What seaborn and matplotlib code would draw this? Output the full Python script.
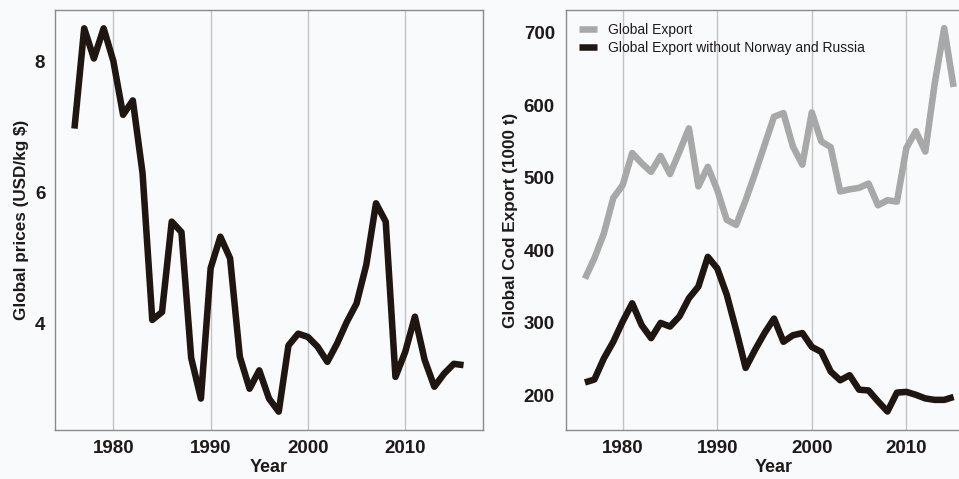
import matplotlib
matplotlib.use("Agg")
import matplotlib.pyplot as plt
import seaborn as sns
import pandas as pd

years_price = list(range(1976, 2017))
prices = [6.97, 8.50, 8.04, 8.50, 8.00, 7.18, 7.40, 6.29, 4.05, 4.17,
          5.55, 5.39, 3.47, 2.85, 4.84, 5.32, 4.99, 3.49, 3.00, 3.28,
          2.85, 2.65, 3.66, 3.84, 3.79, 3.64, 3.41, 3.69, 4.02, 4.30,
          4.89, 5.83, 5.55, 3.18, 3.56, 4.10, 3.44, 3.03, 3.23, 3.38, 3.36]

years_export = list(range(1976, 2016))
global_export = [361, 389, 423, 472, 490, 534, 520, 508, 530, 505,
                 536, 568, 488, 515, 483, 442, 435, 469, 506, 545,
                 584, 589, 543, 518, 590, 550, 542, 481, 484, 486,
                 492, 462, 469, 467, 541, 564, 536, 630, 706, 625]
export_wo_nr = [218, 222, 251, 274, 302, 327, 297, 279, 300, 295,
                309, 334, 350, 391, 375, 339, 290, 238, 263, 286,
                306, 274, 283, 286, 267, 260, 233, 221, 228, 208,
                207, 192, 178, 204, 205, 201, 196, 194, 194, 198]

series_names = ["Global Export", "Global Export without Norway and Russia"]
xticks = [1980, 1990, 2000, 2010]

sns.set_style("white")
plt.rcParams["font.family"] = ["Liberation Sans", "DejaVu Sans"]

BG = "#f9fafc"
BLACK = "#1f1511"
GRAY = "#a8a8a8"
TXT = "#1e1a19"

fig = plt.figure(figsize=(9.59, 4.79), dpi=100, facecolor=BG)
ax1 = fig.add_axes([55/959, 49/479, 428/959, 420/479])
ax2 = fig.add_axes([566/959, 49/479, 416/959, 420/479])

df_price = pd.DataFrame({"Year": years_price, "Price": prices})
df_exp = pd.DataFrame({
    "Year": years_export * 2,
    "Export": global_export + export_wo_nr,
    "Series": [series_names[0]] * len(years_export) + [series_names[1]] * len(years_export),
})

sns.lineplot(data=df_price, x="Year", y="Price", ax=ax1, color=BLACK, linewidth=4.7,
             solid_capstyle="butt")
sns.lineplot(data=df_exp, x="Year", y="Export", hue="Series", ax=ax2,
             palette=[GRAY, BLACK], linewidth=4.7, solid_capstyle="butt")

for ax in (ax1, ax2):
    ax.set_facecolor(BG)
    ax.set_xticks(xticks)
    ax.set_xlim(1974.0, 2018.0)
    ax.grid(axis="x", color="#c4c4c4", linewidth=1.0)
    ax.grid(axis="y", visible=False)
    ax.set_axisbelow(True)
    for s in ax.spines.values():
        s.set_color("#8a8a8a")
        s.set_linewidth(1.0)
    ax.tick_params(length=0, labelsize=13.5, colors=TXT)
    for lab in ax.get_xticklabels() + ax.get_yticklabels():
        lab.set_fontweight("bold")
    ax.tick_params(axis="x", pad=7)
    ax.set_xlabel("Year", fontsize=13, fontweight="bold", labelpad=2, color=TXT)

ax1.set_ylim(2.37, 8.78)
ax1.set_yticks([4, 6, 8])
ax1.tick_params(axis="y", pad=7)
ax1.set_ylabel("Global prices (USD/kg $)", fontsize=12.3, fontweight="bold", labelpad=4, color=TXT)

ax2.set_ylim(152.5, 731)
ax2.set_yticks([200, 300, 400, 500, 600, 700])
ax2.tick_params(axis="y", pad=8)
ax2.set_ylabel("Global Cod Export (1000 t)", fontsize=12.3, fontweight="bold", labelpad=4, color=TXT)

leg = ax2.legend(loc="upper left", frameon=False, fontsize=10, title=None,
                 handlelength=1.3, labelspacing=0.25, borderaxespad=0.55,
                 handletextpad=0.75)
for line in leg.get_lines():
    line.set_linewidth(4.7)
    line.set_solid_capstyle("butt")
for t in leg.get_texts():
    t.set_color(TXT)

fig.savefig("out.png", dpi=100, facecolor=BG)
